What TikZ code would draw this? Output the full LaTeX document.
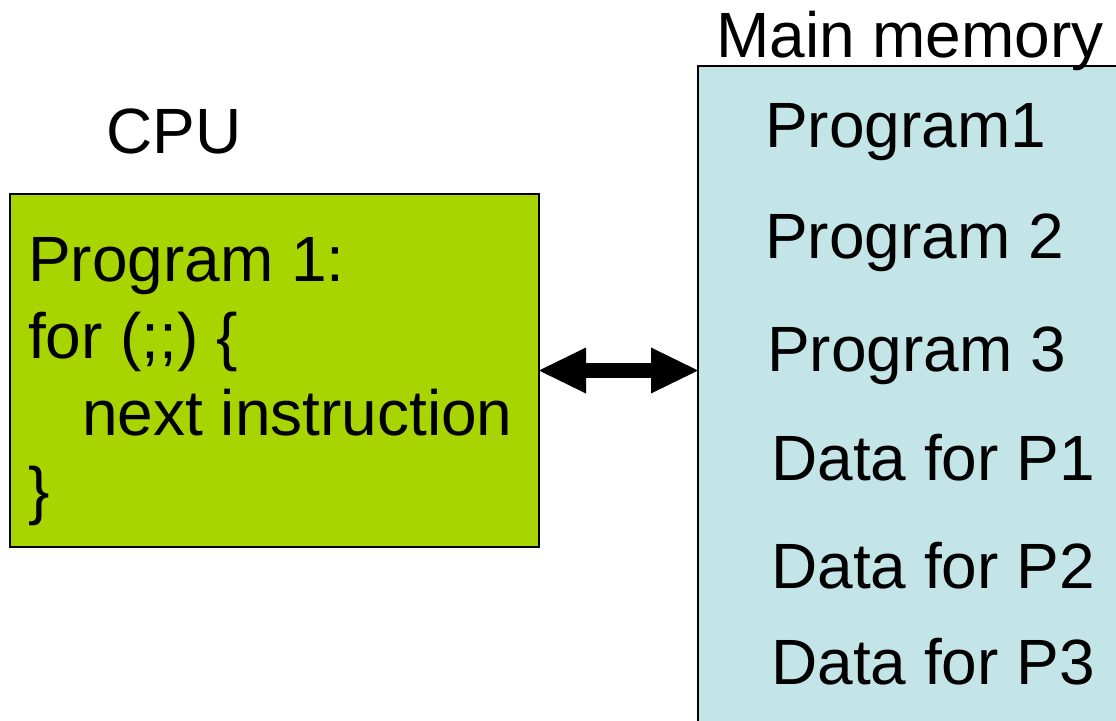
\documentclass[tikz,border=0pt]{standalone}
\usepackage{fontspec}
\setmainfont{Liberation Sans}
\usetikzlibrary{arrows.meta}
\definecolor{cpugreen}{RGB}{168,212,0}
\definecolor{memblue}{RGB}{196,229,232}
\tikzset{unitbox/.style={rectangle,draw=black,line width=2pt,inner sep=0pt,outer sep=0pt,anchor=north west}}
\tikzset{txt/.style={anchor=base west,inner sep=0pt,font=\fontsize{64}{77}\selectfont}}
\tikzset{bus/.style={black,line width=15pt,>={Triangle[length=47pt,width=46pt,line width=0pt]},<->}}
\begin{document}
\begin{tikzpicture}[x=1pt,y=-1pt]
  \clip (0,0) rectangle (1116,720);
  % Boxes
  \node[unitbox,fill=cpugreen,minimum width=529pt,minimum height=353pt] (cpu) at (10,194) {};
  \node[unitbox,fill=memblue,minimum width=440pt,minimum height=700pt] (mem) at (698,66) {};

  % Titles
  \node[txt] (cpulabel) at (106,153) {CPU};
  \node[txt] (memlabel) at (716,57) {Main memory};

  % CPU code
  \foreach \x/\y/\t [count=\i] in {28/281/Program 1:,28/358/for (;;) \{,82/435/next instruction,28/512/\}}
  {
    \node[txt] (cpuline\i) at (\x,\y) {\t};
  }

  % Memory contents
  \foreach \x/\y/\t [count=\i] in {765/147/Program1,765/258/Program 2,767/371/Program 3,771/480/Data for P1,771/588/Data for P2,771/684/Data for P3}
  {
    \node[txt] (memline\i) at (\x,\y) {\t};
  }

  % Bus
  \draw[bus] (cpu.east) -- (cpu.east -| mem.west);
\end{tikzpicture}
\end{document}
